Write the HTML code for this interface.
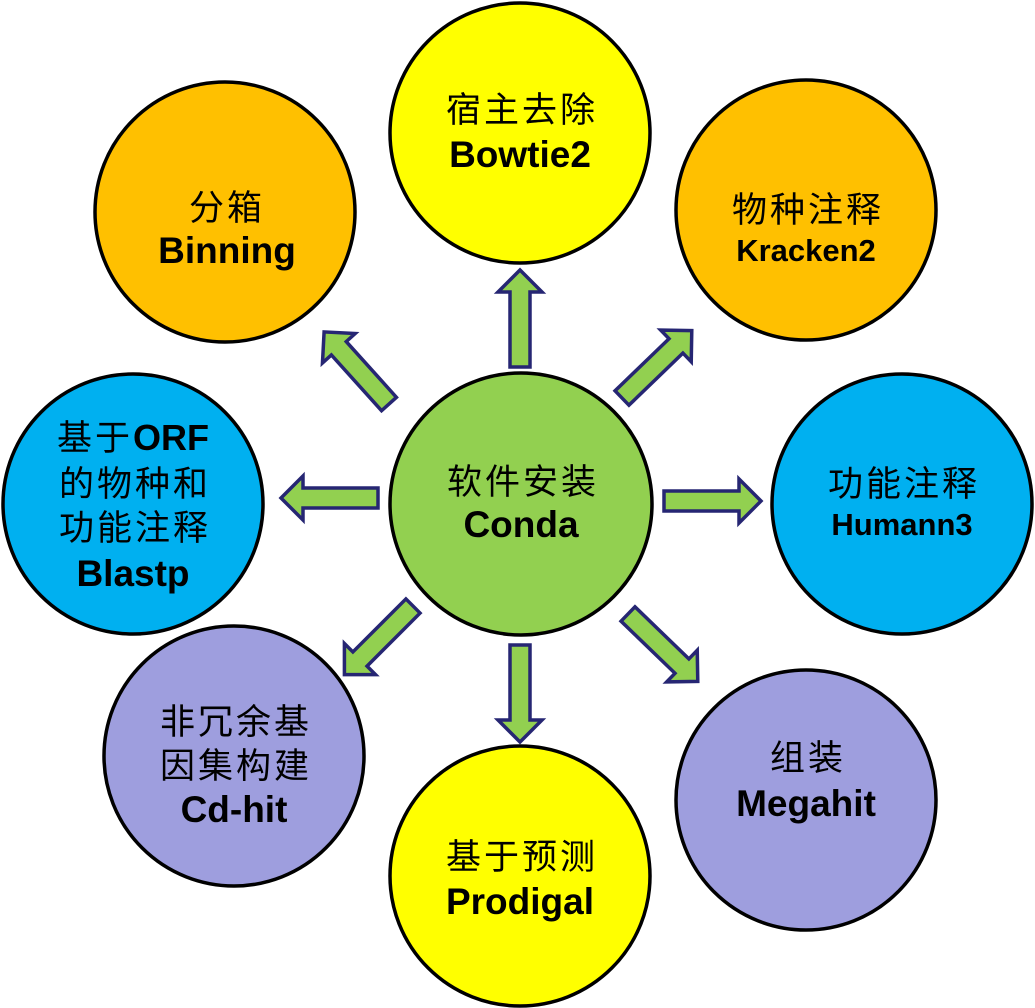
<!DOCTYPE html>
<html><head><meta charset="utf-8"><style>
html,body{margin:0;padding:0;background:#fff}
svg{display:block}
.zh{font-family:"Liberation Sans","Noto Sans CJK SC",sans-serif;font-size:35px;letter-spacing:3px}
.en{font-family:"Liberation Sans",Arial,sans-serif;font-weight:bold;font-size:37px}
.sm{font-size:31px}
</style></head><body>
<svg width="1035" height="1008" viewBox="0 0 1035 1008" xmlns="http://www.w3.org/2000/svg">
<defs>
<polygon id="ar" points="0,-10 75,-10 75,-22 97,0 75,22 75,10 0,10" fill="#92d050" stroke="#262673" stroke-width="3.5" stroke-linejoin="miter"/>
</defs>
<g stroke="#000" stroke-width="3.5">
<circle cx="520" cy="133" r="130" fill="#ffff00"/>
<circle cx="225" cy="212" r="130" fill="#ffc000"/>
<circle cx="806" cy="210" r="130" fill="#ffc000"/>
<circle cx="133" cy="504" r="130" fill="#00b0f0"/>
<circle cx="521" cy="504" r="131" fill="#92d050"/>
<circle cx="902" cy="504" r="130" fill="#00b0f0"/>
<circle cx="234" cy="756" r="130" fill="#9e9ede"/>
<circle cx="806" cy="800" r="130" fill="#9e9ede"/>
<circle cx="520" cy="876" r="130" fill="#ffff00"/>
</g>
<use href="#ar" transform="translate(520,367) rotate(-90)"/>
<use href="#ar" transform="translate(664,501)"/>
<use href="#ar" transform="translate(378,498) rotate(180)"/>
<use href="#ar" transform="translate(520,645) rotate(90)"/>
<use href="#ar" transform="translate(389,404) rotate(-132)"/>
<use href="#ar" transform="translate(622,398) rotate(-44)"/>
<use href="#ar" transform="translate(413,606) rotate(135)"/>
<use href="#ar" transform="translate(628,614) rotate(44)"/>
<g text-anchor="middle" fill="#000">
<text class="zh" x="522" y="122">宿主去除</text>
<text class="en" x="520" y="167">Bowtie2</text>
<text class="zh" x="227" y="220">分箱</text>
<text class="en" x="227" y="263">Binning</text>
<text class="zh" x="808" y="222">物种注释</text>
<text class="en sm" x="806" y="261">Kracken2</text>
<text class="zh" x="133" y="450">基于<tspan class="en" style="font-size:36px;letter-spacing:0">ORF</tspan></text>
<text class="zh" x="135" y="496">的物种和</text>
<text class="zh" x="135" y="540">功能注释</text>
<text class="en" x="133" y="586">Blastp</text>
<text class="zh" x="523" y="494">软件安装</text>
<text class="en" x="521" y="537">Conda</text>
<text class="zh" x="904" y="496">功能注释</text>
<text class="en sm" x="902" y="535">Humann3</text>
<text class="zh" x="236" y="734">非冗余基</text>
<text class="zh" x="236" y="778">因集构建</text>
<text class="en" x="234" y="822">Cd-hit</text>
<text class="zh" x="808" y="770">组装</text>
<text class="en" x="806" y="816">Megahit</text>
<text class="zh" x="522" y="869">基于预测</text>
<text class="en" x="520" y="914">Prodigal</text>
</g>
</svg>
</body></html>
